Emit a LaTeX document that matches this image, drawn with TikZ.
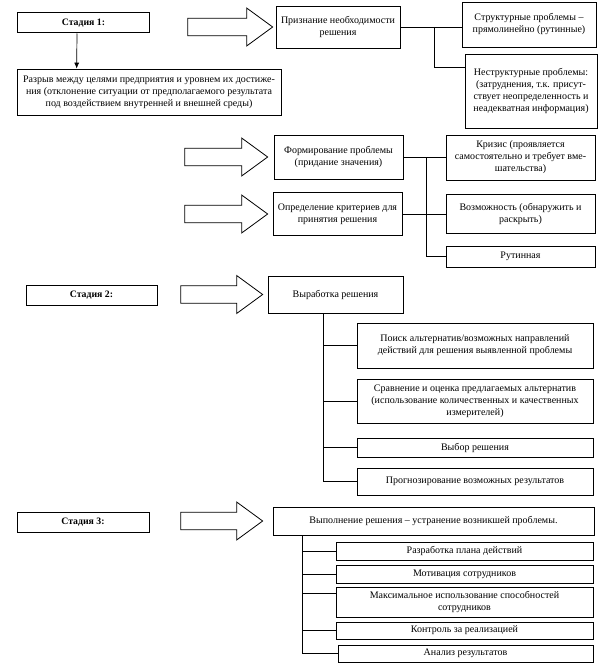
\documentclass[tikz,border=0pt]{standalone}
\usepackage{fontspec}
\setmainfont{Liberation Serif}
\usetikzlibrary{arrows.meta,calc}
\tikzset{
  box/.style={draw, line width=0.7pt, rectangle, align=center, inner sep=1pt,
    font=\fontsize{10}{12}\selectfont},
  stagebox/.style={draw, line width=1pt, rectangle, align=center, inner sep=1pt,
    minimum width=132pt, minimum height=20pt, font=\fontsize{9.8}{11}\selectfont\bfseries},
  conn/.style={line width=0.7pt},
  bigarrow/.pic={
    \draw[line width=0.8pt, line join=miter]
      (-#1,-8.75) -- (-26,-8.75) -- (-26,-19) -- (0,0) -- (-26,19) -- (-26,8.75) -- (-#1,8.75) -- cycle;
  }
}
\begin{document}
\begin{tikzpicture}[x=1pt,y=-1pt]
\useasboundingbox (0,0) rectangle (606,669);

% ---------- Stage 1 ----------
\node[stagebox] (st1) at (83.5,23) {Стадия 1:};
\node[box, minimum width=264pt, minimum height=46pt] (gap) at (149,92)
  {Разрыв между целями предприятия и уровнем их достиже-\\ния (отклонение ситуации от предполагаемого результата\\под воздействием внутренней и внешней среды)};
\draw[conn, -{Latex[length=6pt,width=5pt]}] ($(st1.south west)+(60,0)$) -- ($(gap.north west)+(60,0)$);

\node[box, minimum width=124pt, minimum height=42pt] (prizn) at (338,27)
  {Признание необходимости\\решения};
\node[box, minimum width=134pt, minimum height=45pt] (struct) at (529,24.5)
  {Структурные проблемы –\\прямолинейно (рутинные)};
\node[box, line width=0.9pt, minimum width=132pt, minimum height=74pt] (nestr) at (531,91)
  {Неструктурные проблемы:\\(затруднения, т.к. присут-\\ствует неопределенность и\\неадекватная информация)};
\pic at ($(prizn.west)+(-3,0)$) {bigarrow=85};
\draw[conn] (prizn.east) -- (prizn.east -| struct.west);
\coordinate (j1) at ($(prizn.east)+(34,0)$);
\draw[conn] (j1) |- ($(nestr.north west)+(0,14)$);

\node[box, minimum width=129pt, minimum height=44pt] (form) at (338.5,157)
  {Формирование проблемы\\(придание значения)};
\node[box, minimum width=129pt, minimum height=43pt] (crit) at (337.5,214)
  {Определение критериев для\\принятия решения};
\node[box, minimum width=149pt, minimum height=45pt] (crisis) at (520.5,157.5)
  {Кризис (проявляется\\самостоятельно и требует вме-\\шательства)};
\node[box, minimum width=149pt, minimum height=39pt] (opp) at (520.5,213.5)
  {Возможность (обнаружить и\\раскрыть)};
\node[box, minimum width=149pt, minimum height=21pt] (rout) at (520.5,256.5)
  {Рутинная};
\pic at ($(form.west)+(-6,0)$) {bigarrow=83};
\pic at ($(crit.west)+(-5,0)$) {bigarrow=83};
\draw[conn] (form.east) -- (form.east -| crisis.west);
\coordinate (j2) at ($(form.east)+(23,0)$);
\draw[conn] (j2) |- (rout.west);
\draw[conn] (crit.east) -- (crit.east -| opp.west);

% ---------- Stage 2 ----------
\node[stagebox, minimum width=131pt] (st2) at (91.5,295) {Стадия 2:};
\node[box, minimum width=135pt, minimum height=37pt] (vyr) at (335.5,294.5)
  {Выработка решения};
\pic at ($(vyr.west)+(-5,0)$) {bigarrow=82};
\node[box, minimum width=236pt, minimum height=45pt] (poisk) at (475,345.5)
  {Поиск альтернатив/возможных направлений\\действий для решения выявленной проблемы};
\node[box, minimum width=236pt, minimum height=44pt] (srav) at (475,401)
  {Сравнение и оценка предлагаемых альтернатив\\(использование количественных и качественных\\измерителей)};
\node[box, minimum width=236pt, minimum height=19pt] (vybor) at (475,447.5)
  {Выбор решения};
\node[box, minimum width=236pt, minimum height=27pt] (prog) at (475,481.5)
  {Прогнозирование возможных результатов};
\coordinate (v2) at ($(vyr.south west)+(56,0)$);
\draw[conn] (v2) |- (prog.west);
\draw[conn] (v2 |- poisk.west) -- (poisk.west);
\draw[conn] (v2 |- srav.west) -- (srav.west);
\draw[conn] (v2 |- vybor.west) -- (vybor.west);

% ---------- Stage 3 ----------
\node[stagebox] (st3) at (83,522) {Стадия 3:};
\node[box, minimum width=321pt, minimum height=28pt] (vyp) at (433.5,521)
  {Выполнение решения – устранение возникшей проблемы.};
\pic at ($(vyp.west)+(-10,0)$) {bigarrow=82};
\node[box, minimum width=257pt, minimum height=18pt] (raz) at (464.5,551)
  {Разработка плана действий};
\node[box, minimum width=257pt, minimum height=18pt] (mot) at (464.5,574)
  {Мотивация сотрудников};
\node[box, minimum width=257pt, minimum height=30pt] (maxi) at (464.5,602)
  {Максимальное использование способностей\\сотрудников};
\node[box, minimum width=257pt, minimum height=17pt] (kon) at (464.5,630.5)
  {Контроль за реализацией};
\node[box, minimum width=255pt, minimum height=17pt] (ana) at (465.5,653.5)
  {Анализ результатов};
\coordinate (v3) at ($(vyp.south west)+(30,0)$);
\draw[conn] (v3) |- (ana.west);
\draw[conn] (v3 |- raz.west) -- (raz.west);
\draw[conn] (v3 |- mot.west) -- (mot.west);
\draw[conn] ($(maxi.north west)+(0,7)$) -- ($(maxi.north west -| v3)+(0,7)$);
\draw[conn] (v3 |- kon.west) -- (kon.west);
\end{tikzpicture}
\end{document}
